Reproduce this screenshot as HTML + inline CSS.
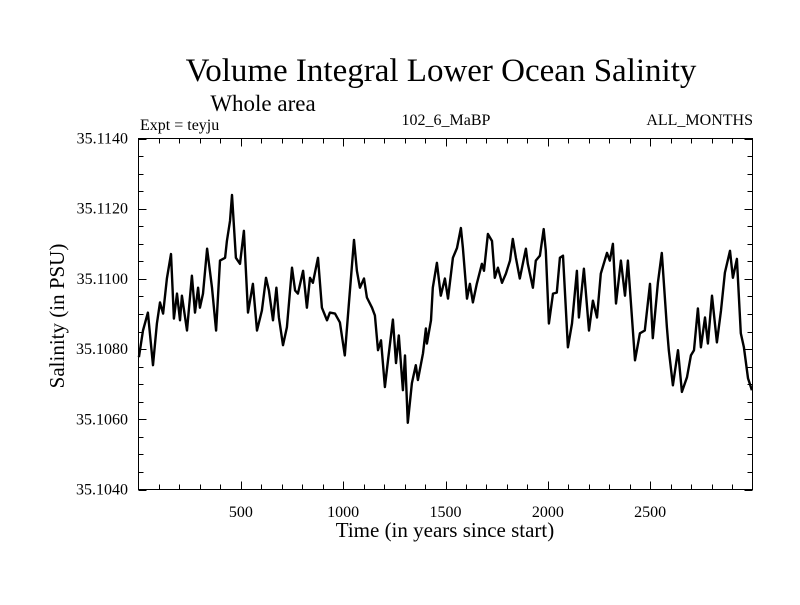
<!DOCTYPE html>
<html><head><meta charset="utf-8"><style>
html,body{margin:0;padding:0;background:#fff;}
svg text{font-family:"Liberation Serif",serif;fill:#000;}
</style></head><body>
<svg id="chart" width="800" height="600" viewBox="0 0 800 600">
<text x="441" y="81" font-size="33" text-anchor="middle">Volume Integral Lower Ocean Salinity</text>
<text x="263" y="111" font-size="23" text-anchor="middle">Whole area</text>
<text x="140" y="130" font-size="16">Expt = teyju</text>
<text x="446" y="125" font-size="16" text-anchor="middle">102_6_MaBP</text>
<text x="753" y="125" font-size="16" text-anchor="end">ALL_MONTHS</text>
<text x="445" y="537" font-size="21" text-anchor="middle">Time (in years since start)</text>
<text transform="translate(64,316) rotate(-90)" font-size="21" text-anchor="middle">Salinity (in PSU)</text>
<g id="axes"></g>
<path id="series" fill="none" stroke="#000" stroke-width="2.4" stroke-linejoin="round"></path>
<rect x="138.5" y="138.5" width="614" height="351" fill="none" stroke="#000" stroke-width="1"></rect>
</svg>
<script>
const years = [2,22,46,71,90,105,120,139,159,173,188,203,212,237,261,276,291,300,315,335,359,379,398,423,432,447,457,476,496,515,535,559,579,603,623,637,657,674,686,706,725,750,765,779,804,823,838,852,877,896,921,935,960,984,1008,1028,1053,1067,1082,1102,1116,1141,1155,1170,1185,1204,1219,1243,1258,1272,1292,1302,1316,1336,1355,1365,1390,1404,1409,1429,1438,1458,1477,1497,1512,1536,1556,1575,1585,1605,1619,1634,1653,1678,1688,1707,1727,1741,1756,1776,1795,1815,1829,1844,1863,1893,1902,1927,1941,1961,1980,1990,2005,2025,2044,2059,2074,2098,2118,2142,2152,2176,2201,2220,2240,2259,2289,2303,2318,2333,2357,2377,2391,2426,2450,2474,2499,2513,2538,2557,2582,2591,2611,2636,2655,2680,2699,2714,2733,2748,2768,2782,2802,2826,2846,2865,2890,2904,2924,2943,2958,2978,2997];
const salinity = [35.10777,35.10853,35.10904,35.10754,35.10873,35.10933,35.10901,35.11001,35.11071,35.10887,35.10958,35.10882,35.10952,35.10853,35.11009,35.10904,35.10975,35.10918,35.10958,35.11086,35.10975,35.10853,35.11052,35.11060,35.11108,35.11165,35.11239,35.11060,35.11043,35.11137,35.10904,35.10986,35.10853,35.10910,35.11003,35.10967,35.10882,35.10975,35.10890,35.10811,35.10862,35.11032,35.10967,35.10958,35.11023,35.10918,35.11003,35.10989,35.11060,35.10918,35.10882,35.10904,35.10901,35.10876,35.10782,35.10930,35.11111,35.11023,35.10975,35.11001,35.10947,35.10918,35.10896,35.10797,35.10825,35.10692,35.10768,35.10884,35.10760,35.10839,35.10683,35.10782,35.10590,35.10703,35.10754,35.10712,35.10788,35.10859,35.10816,35.10882,35.10975,35.11046,35.10952,35.11001,35.10944,35.11060,35.11088,35.11145,35.11088,35.10944,35.10986,35.10933,35.10986,35.11043,35.11023,35.11128,35.11108,35.11003,35.11032,35.10989,35.11015,35.11052,35.11114,35.11060,35.11001,35.11086,35.11043,35.10975,35.11052,35.11066,35.11142,35.11080,35.10873,35.10958,35.10961,35.11060,35.11066,35.10805,35.10873,35.11023,35.10890,35.11029,35.10853,35.10938,35.10890,35.11015,35.11074,35.11052,35.11100,35.10930,35.11052,35.10952,35.11052,35.10768,35.10845,35.10853,35.10986,35.10831,35.10989,35.11074,35.10862,35.10797,35.10697,35.10797,35.10678,35.10720,35.10782,35.10797,35.10916,35.10805,35.10890,35.10816,35.10952,35.10819,35.10910,35.11018,35.11080,35.11003,35.11057,35.10845,35.10805,35.10717,35.10683];
const xTickValues = [500,1000,1500,2000,2500];
const xTickLabels = ["500","1000","1500","2000","2500"];
const yTickValues = [35.104,35.106,35.108,35.110,35.112,35.114];
const yTickLabels = ["35.1040","35.1060","35.1080","35.1100","35.1120","35.1140"];
const X0=138.5,X1=752.5,Y0=489.5,Y1=138.5,XMIN=0,XMAX=3000,YMIN=35.104,YMAX=35.114;
function xs(v){return X0+(v-XMIN)/(XMAX-XMIN)*(X1-X0);}
function ys(v){return Y0-(v-YMIN)/(YMAX-YMIN)*(Y0-Y1);}
const NS="http://www.w3.org/2000/svg";
const axes=document.getElementById('axes');
function line(x1,y1,x2,y2,name){
  const l=document.createElementNS(NS,'line');
  l.setAttribute('x1',x1);l.setAttribute('y1',y1);l.setAttribute('x2',x2);l.setAttribute('y2',y2);
  l.setAttribute('stroke','#000');l.setAttribute('stroke-width','1');
  
  
  axes.appendChild(l);
}
function label(x,y,t,anchor,name){
  const e=document.createElementNS(NS,'text');
  e.setAttribute('x',x);e.setAttribute('y',y);e.setAttribute('font-size','16');e.setAttribute('text-anchor',anchor);
  e.textContent=t;
  
  
  axes.appendChild(e);
}
for(let v=100;v<XMAX;v+=100){
  const major=v%500===0, len=major?8:5, x=Math.round(xs(v))+0.5;
  line(x,Y0,x,Y0-len,'x-tick');
  line(x,Y1,x,Y1+len,'x-tick-top');
}
xTickValues.forEach((v,i)=>label(xs(v),517,xTickLabels[i],'middle','x-tick-label'));
for(let k=0;k<=20;k++){
  const v=YMIN+k*0.0005, major=k%4===0, len=major?8:5, y=Math.round(ys(v))+0.5;
  line(X0,y,X0+len,y,'y-tick');
  line(X1,y,X1-len,y,'y-tick-right');
}
yTickValues.forEach((v,i)=>label(128,ys(v)+5,yTickLabels[i],'end','y-tick-label'));
let d='';
years.forEach((yr,i)=>{d+=(i?'L':'M')+xs(yr).toFixed(1)+','+ys(salinity[i]).toFixed(1);});
document.getElementById('series').setAttribute('d',d);
</script>
</body></html>
